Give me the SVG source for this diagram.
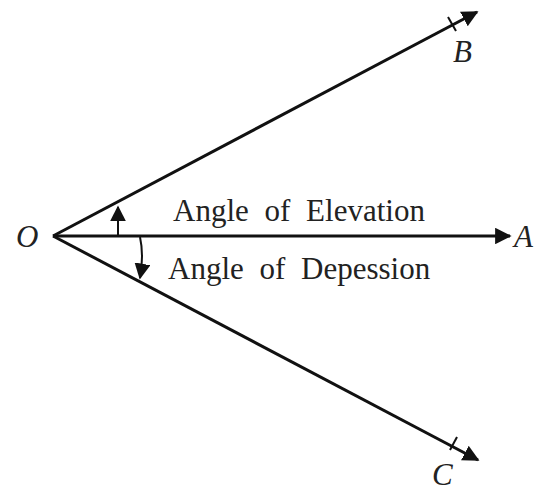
<svg xmlns="http://www.w3.org/2000/svg" width="549" height="491" viewBox="0 0 549 491">
<style>
.ln{stroke:#111;stroke-width:3;fill:none}
.thin{stroke:#111;stroke-width:2;fill:none}
.lbl{font-family:"Liberation Serif",serif;font-size:31px;fill:#222;word-spacing:8px}
.it{font-family:"Liberation Serif",serif;font-style:italic;font-size:31px;fill:#222}
</style>
<defs>
<marker id="ah" viewBox="0 0 10 10" refX="9" refY="5" markerWidth="5.5" markerHeight="5.5" orient="auto" markerUnits="strokeWidth">
<path d="M0,0 L10,5 L0,10 Z" fill="#111"/>
</marker>
<marker id="ah2" viewBox="0 0 10 10" refX="9" refY="5" markerWidth="8" markerHeight="8" orient="auto" markerUnits="strokeWidth">
<path d="M0,0 L10,5 L0,10 Z" fill="#111"/>
</marker>
</defs>
<g id="connectors">
<line class="ln" x1="53" y1="236" x2="510" y2="236" marker-end="url(#ah)"/>
<line class="ln" x1="53" y1="236" x2="477" y2="12" marker-end="url(#ah)"/>
<line class="ln" x1="53" y1="236" x2="478" y2="460" marker-end="url(#ah)"/>
<line class="thin" x1="448" y1="17" x2="456" y2="31"/>
<line class="thin" x1="450" y1="450" x2="457" y2="437"/>
<path class="thin" d="M118,236 L118,207" marker-end="url(#ah2)"/>
<path class="thin" d="M140,237 Q144,255 140,278" marker-end="url(#ah2)"/>
</g>
<g id="O"><text class="it" x="16" y="247">O</text></g>
<g id="A"><text class="it" x="514" y="247">A</text></g>
<g id="B"><text class="it" x="453" y="62">B</text></g>
<g id="C"><text class="it" x="432" y="485">C</text></g>
<g id="elev"><text class="lbl" x="173" y="221">Angle of Elevation</text></g>
<g id="dep"><text class="lbl" x="168" y="279">Angle of Depession</text></g>
</svg>
